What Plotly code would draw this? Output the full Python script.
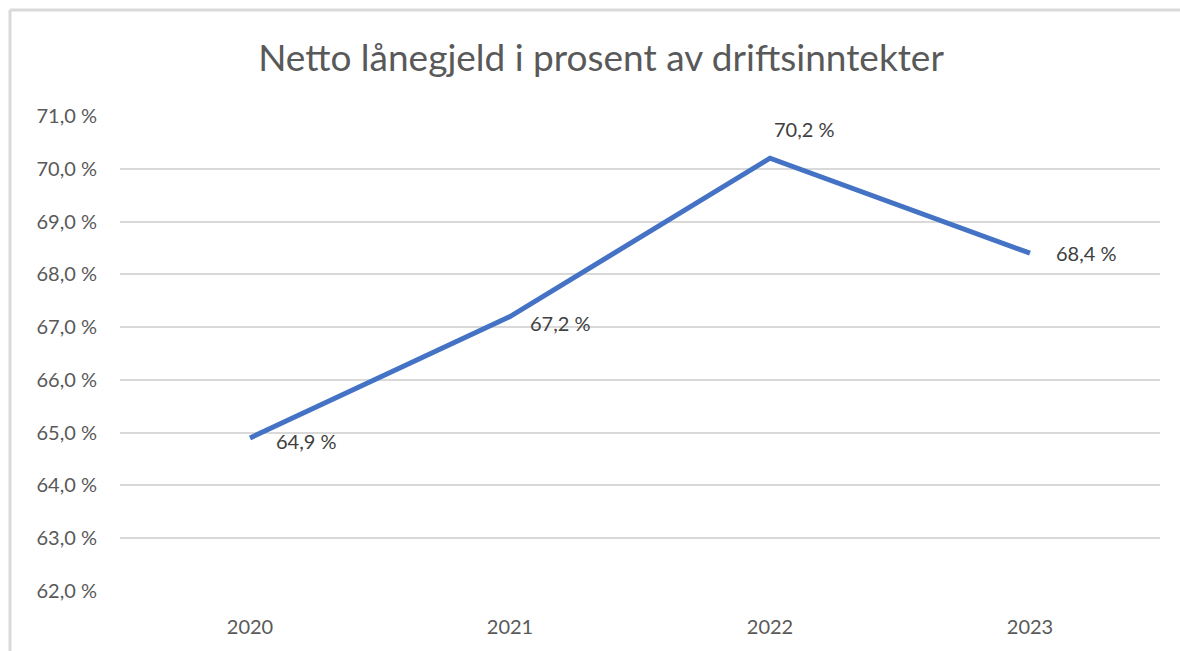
import plotly.graph_objects as go

years = ["2020", "2021", "2022", "2023"]
values = [64.9, 67.2, 70.2, 68.4]
labels = ["64,9 %", "67,2 %", "70,2 %", "68,4 %"]
y_ticks = [62, 63, 64, 65, 66, 67, 68, 69, 70, 71]
y_ticktext = ["62,0 %", "63,0 %", "64,0 %", "65,0 %", "66,0 %", "67,0 %", "68,0 %", "69,0 %", "70,0 %", "71,0 %"]
title = "Netto lånegjeld i prosent av driftsinntekter"

W, H = 1180, 651
L, R, T, B = 120, 20, 116, 60
pw, ph = W - L - R, H - T - B

def px(p):
    return (p - L) / pw

def py(q):
    return (H - B - q) / ph

font = "Lato, Open Sans, sans-serif"
grey = "#595959"

fig = go.Figure()
fig.add_trace(go.Scatter(
    x=years, y=values, mode="lines",
    line=dict(color="#4472C4", width=5),
    hoverinfo="skip", showlegend=False,
))

# data label offsets (pixels) per point
offsets = [(24, -3), (18, -6), (2, 29), (24, 0)]
for i, (v, lab, (dx, dy)) in enumerate(zip(values, labels, offsets)):
    fig.add_annotation(x=i, y=v, xref="x", yref="y", text=lab, showarrow=False,
                       xanchor="left", yanchor="middle",
                       xshift=dx, yshift=dy,
                       font=dict(family=font, size=20, color="#404040"))

fig.add_shape(type="line", xref="paper", yref="paper",
              x0=px(10), x1=px(1180), y0=py(10), y1=py(10),
              line=dict(color="#d9d9d9", width=3))
fig.add_shape(type="line", xref="paper", yref="paper",
              x0=px(10), x1=px(10), y0=py(10), y1=py(651),
              line=dict(color="#d9d9d9", width=3))

fig.update_layout(
    width=W, height=H,
    margin=dict(l=L, r=R, t=T, b=B),
    paper_bgcolor="white", plot_bgcolor="white",
    title=dict(text=title, x=601 / W, xanchor="center", y=1 - 58 / H, yanchor="middle",
               font=dict(family=font, size=37, color=grey)),
    xaxis=dict(type="category", range=[-0.5, 3.5], showgrid=False, showline=False,
               zeroline=False, ticks="", tickfont=dict(family=font, size=20, color=grey),
               ticklabelstandoff=22),
    yaxis=dict(range=[62, 71], tickvals=y_ticks, ticktext=y_ticktext,
               showgrid=True, gridcolor="#d9d9d9", gridwidth=2, zeroline=False,
               showline=False, ticks="", tickfont=dict(family=font, size=20, color=grey),
               ticklabelstandoff=22),
)

fig.write_html("out.html", config={"displayModeBar": False},
               post_script="document.body.style.margin='0';document.body.style.overflow='hidden';")
